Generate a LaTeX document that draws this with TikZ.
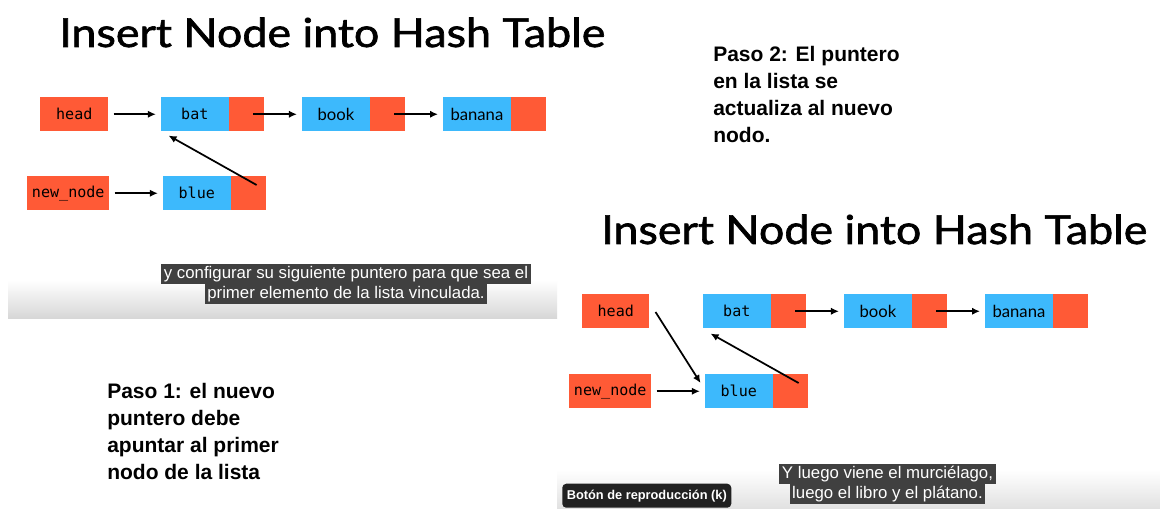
\documentclass[tikz,border=0pt]{standalone}
\usepackage{fontspec}
\setmainfont{Liberation Sans}
\newfontfamily\titlefont{Lato}
\newfontfamily\titlewide{Lato}[FakeStretch=1.12, FakeBold=1.6]
\newfontfamily\monofont{DejaVu Sans Mono}
\usepackage{tikz}
\usetikzlibrary{arrows.meta, positioning}
\definecolor{ptrRed}{HTML}{FF5A36}
\definecolor{dataBlue}{HTML}{3DB9FC}
\definecolor{capGray}{HTML}{404040}
\definecolor{btnGray}{HTML}{212121}

\begin{document}
\begin{tikzpicture}[
  x=0.75pt, y=-0.75pt,
  node distance=0pt,
  ptrbox/.style={fill=ptrRed, minimum width=26.25pt, minimum height=25.5pt, inner sep=0pt},
  databox/.style={fill=dataBlue, minimum width=51pt, minimum height=25.5pt, inner sep=0pt,
               font=\monofont\fontsize{11.3}{12}\selectfont},
  wordbox/.style={databox, font=\titlefont\fontsize{12.5}{14}\selectfont},
  namebox/.style={fill=ptrRed, minimum height=25.5pt, inner sep=0pt,
               font=\monofont\fontsize{11.3}{12}\selectfont},
  arr/.style={-{Latex[length=6pt,width=5.5pt]}, line width=1.3pt, shorten >=3.5pt},
  headtitle/.style={font=\titlewide\fontsize{30}{36}\selectfont, anchor=base west, inner sep=0pt},
  pasonote/.style={font=\bfseries\fontsize{15.75}{20.25}\selectfont, align=left, anchor=north west, inner sep=0pt},
  capline/.style={fill=capGray, text=white, font=\fontsize{12.6}{14}\selectfont,
               inner xsep=2pt, inner ysep=0pt, minimum height=14.6pt},
  playbtn/.style={fill=btnGray, rounded corners=3pt, text=white, font=\bfseries\fontsize{9.6}{11}\selectfont,
               minimum width=126.75pt, minimum height=18pt, inner sep=0pt}
]
  \useasboundingbox (0,0) rectangle (1160,509);
  \fill[white] (0,0) rectangle (1160,509);
  \shade[top color=white, bottom color=black!16] (8,280) rectangle (557,319);
  \shade[top color=white, bottom color=black!12] (557,470) rectangle (1160,509);

  \node[headtitle] (titleA) at (59,47) {Insert Node into Hash Table};
  \node[namebox, minimum width=51pt, anchor=north west] (headA) at (40,97) {head};
  \node[databox, right=39pt of headA] (batA) {bat};
  \node[ptrbox, right=0pt of batA] (batAp) {};
  \node[wordbox, right=27.75pt of batAp] (bookA) {book};
  \node[ptrbox, right=0pt of bookA] (bookAp) {};
  \node[wordbox, right=27.75pt of bookAp] (bananaA) {banana};
  \node[ptrbox, right=0pt of bananaA] (bananaAp) {};
  \node[namebox, minimum width=61.5pt, anchor=north west] (newA) at (27,176) {new\_node};
  \node[databox, right=39.75pt of newA] (blueA) {blue};
  \node[ptrbox, right=0pt of blueA] (blueAp) {};

  \draw[arr, shorten <=3.75pt] (headA) -- (batA);
  \draw[arr] ([xshift=4.9pt]batAp.center) -- (bookA);
  \draw[arr] ([xshift=4.9pt]bookAp.center) -- (bananaA);
  \draw[arr, shorten <=3.75pt] (newA) -- (blueA);
  \draw[arr, shorten >=0pt] ([shift={(-10,9)}]blueAp.north east) -- ([shift={(8,4)}]batA.south west);

  \node[capline] (capA1) at (346,274) {y configurar su siguiente puntero para que sea el};
  \node[capline, below=0pt of capA1] (capA2) {primer elemento de la lista vinculada.};

  \node[pasonote] (paso1) at (107,383) {Paso 1: el nuevo\\puntero debe\\apuntar al primer\\nodo de la lista};
  \node[pasonote] (paso2) at (713,46) {Paso 2: El puntero\\en la lista se\\actualiza al nuevo\\nodo.};

  \node[headtitle] (titleB) at (601,244) {Insert Node into Hash Table};
  \node[namebox, minimum width=50.25pt, anchor=north west] (headB) at (582,294) {head};
  \node[databox, right=39.75pt of headB] (batB) {bat};
  \node[ptrbox, right=0pt of batB] (batBp) {};
  \node[wordbox, right=27.75pt of batBp] (bookB) {book};
  \node[ptrbox, right=0pt of bookB] (bookBp) {};
  \node[wordbox, right=27.75pt of bookBp] (bananaB) {banana};
  \node[ptrbox, right=0pt of bananaB] (bananaBp) {};
  \node[namebox, minimum width=61.5pt, anchor=north west] (newB) at (569,374) {new\_node};
  \node[databox, right=39.75pt of newB] (blueB) {blue};
  \node[ptrbox, right=0pt of blueB] (blueBp) {};

  \draw[arr] ([xshift=4.9pt]batBp.center) -- (bookB);
  \draw[arr] ([xshift=4.9pt]bookBp.center) -- (bananaB);
  \draw[arr, shorten <=3.75pt] (newB) -- (blueB);
  \draw[arr, shorten >=0pt] ([shift={(6,18)}]headB.north east) -- ([shift={(-4,9)}]blueB.north west);
  \draw[arr, shorten >=0pt] ([shift={(-10,9)}]blueBp.north east) -- ([shift={(8,5)}]batB.south west);

  \node[capline] (capB1) at (887.5,474) {Y luego viene el murciélago,};
  \node[capline, below=0pt of capB1] (capB2) {luego el libro y el plátano.};
  \node[playbtn, anchor=south west] (btn) at (562,508) {Botón de reproducción (k)};
\end{tikzpicture}
\end{document}
